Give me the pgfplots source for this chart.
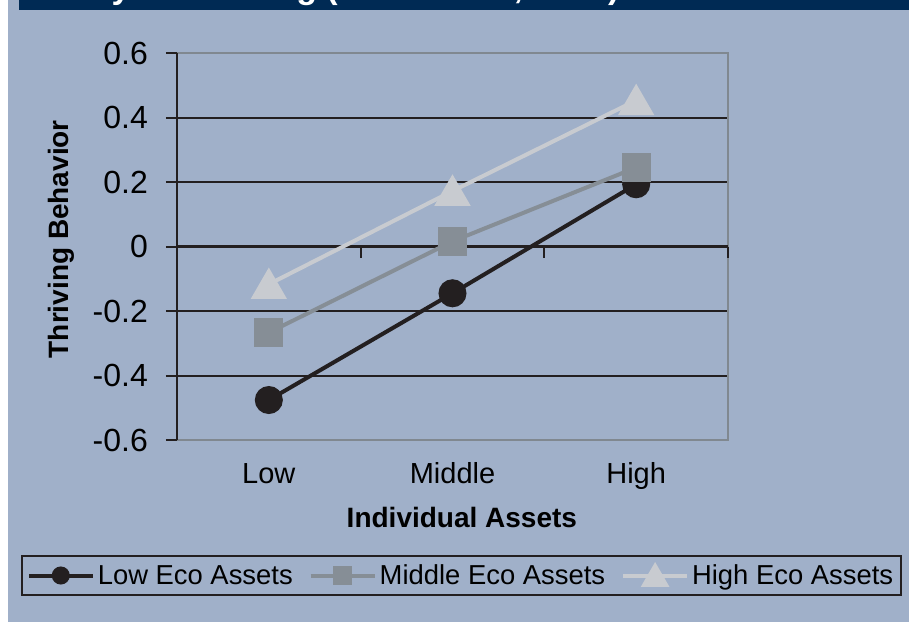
\documentclass[border=0pt]{standalone}
\usepackage{fontspec}
\setmainfont{Liberation Sans}
\usepackage{pgfplots}
\pgfplotsset{compat=1.18}
\definecolor{bg}{RGB}{160,176,201}
\definecolor{navy}{RGB}{0,42,84}
\definecolor{sblack}{RGB}{35,31,32}
\definecolor{smid}{RGB}{134,142,150}
\definecolor{slight}{RGB}{200,203,208}
\definecolor{border}{RGB}{128,136,144}
\begin{document}
\begin{tikzpicture}
\fill[bg] (0,0) rectangle (909pt,-622pt);
\fill[white] (0,0) rectangle (8pt,-622pt);
\fill[navy] (19pt,0) rectangle (909pt,-10pt);
\begin{scope}
\clip (19pt,0) rectangle (909pt,-10pt);
\node[anchor=base west, inner sep=0pt, text=white, font=\bfseries\fontsize{34}{40}\selectfont] at (36pt,2pt) {Study 2: Thriving (Grades 5-6, 2008)};
\end{scope}

\begin{axis}[
 at={(177pt,-440pt)}, anchor=south west,
 scale only axis, width=551pt, height=387pt,
 xmin=-0.5, xmax=2.5, ymin=-0.6, ymax=0.6,
 axis line style={draw=border, line width=2.5pt},
 xtick={0,1,2}, xticklabels={Low,Middle,High},
 ytick={-0.6,-0.4,-0.2,0,0.2,0.4,0.6},
 yticklabels={-0.6,-0.4,-0.2,0,0.2,0.4,0.6},
 tick style={draw=none},
 ymajorgrids, major grid style={sblack, line width=2pt},
 xticklabel style={font=\fontsize{29}{34}\selectfont, inner sep=0pt, anchor=base, yshift=-43.3pt},
 yticklabel style={font=\fontsize{32}{38}\selectfont, inner sep=0pt, anchor=east, xshift=-29pt},
 xlabel={Individual Assets}, ylabel={Thriving Behavior},
 xlabel style={font=\bfseries\fontsize{28}{34}\selectfont, at={(axis description cs:0.517,-0.225)}, anchor=base, inner sep=0pt},
 ylabel style={font=\bfseries\fontsize{28}{34}\selectfont, at={(axis description cs:-0.197,0.519)}, anchor=base, inner sep=0pt},
]
\end{axis}

\begin{axis}[
 at={(177pt,-440pt)}, anchor=south west,
 scale only axis, width=551pt, height=387pt,
 xmin=-0.5, xmax=2.5, ymin=-0.6, ymax=0.6,
 axis x line=middle, axis y line=left,
 axis line style={-, sblack, line width=2.5pt},
 xtick={-0.5,0.5,1.5,2.5}, xticklabels={},
 ytick={-0.6,-0.4,-0.2,0,0.2,0.4,0.6}, yticklabels={},
 tick align=outside, major tick length=11pt,
 tick style={sblack, line width=2pt},
 clip=false,
 legend image code/.code={
   \draw[#1, mark repeat=2, mark phase=2] plot coordinates {(0pt,0pt) (32pt,0pt) (64pt,0pt)};
 },
 legend columns=3,
 legend style={at={(axis description cs:0.5163,-0.3501)}, anchor=center,
   draw=sblack, line width=2pt, fill=none, inner xsep=5pt, inner ysep=7pt,
   font=\fontsize{27.4}{32}\selectfont,
   /tikz/every even column/.append style={column sep=13pt},
   nodes={inner xsep=3pt, inner ysep=2pt}},
]
\addplot[sblack, line width=4pt, mark=*, mark size=12pt, mark options={fill=sblack, draw=none}, forget plot]
 coordinates {(0,-0.476) (1,-0.145) (2,0.193)};
\addplot[smid, line width=4pt, mark=square*, mark size=12.5pt, mark options={fill=smid, draw=none}, forget plot]
 coordinates {(0,-0.267) (1,0.016) (2,0.245)};
\addplot[slight, line width=4pt, mark=triangle*, mark size=17pt, mark options={fill=slight, draw=none, yshift=-4.25pt}, forget plot]
 coordinates {(0,-0.117) (1,0.172) (2,0.453)};
\addlegendimage{sblack, line width=4pt, mark=*, mark size=7pt, mark options={fill=sblack, draw=none}}
\addlegendentry{Low Eco Assets}
\addlegendimage{smid, line width=4pt, mark=square*, mark size=7.5pt, mark options={fill=smid, draw=none}}
\addlegendentry{Middle Eco Assets}
\addlegendimage{slight, line width=4pt, mark=triangle*, mark size=12.5pt, mark options={fill=slight, draw=none, yshift=-3pt}}
\addlegendentry{High Eco Assets}
\end{axis}
\pgfresetboundingbox
\useasboundingbox (0,0) rectangle (909pt,-622pt);
\end{tikzpicture}
\end{document}
